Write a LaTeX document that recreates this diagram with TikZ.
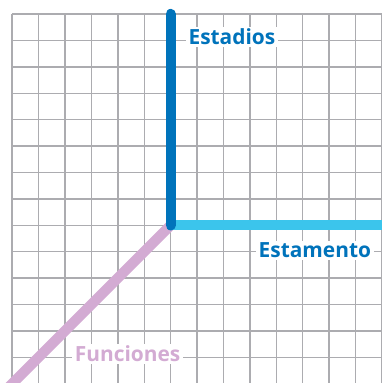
\documentclass[tikz,border=0pt]{standalone}
\usepackage{fontspec}
\newfontfamily\labelfont{Open Sans}
\definecolor{mblue}{RGB}{0,115,187}
\definecolor{mcyan}{RGB}{59,197,236}
\definecolor{mlilac}{RGB}{211,171,211}
\definecolor{mgrid}{RGB}{172,172,176}
\tikzset{axis/.style = {line width = 11pt}}
\tikzset{lbl/.style = {fill=white, inner xsep=3pt, inner ysep=2pt, anchor=base,
                       font=\labelfont\bfseries\fontsize{22.5}{24}\selectfont}}

\begin{document}
\begin{tikzpicture}
  \useasboundingbox (-0.46, 0.03) rectangle (14, 14.53);
  \draw [mgrid, line width=1.5pt] (0, -0.3) grid (14.3, 14);

  \coordinate (o) at (6, 6);
  \coordinate (top) at (6, 14);
  \coordinate (right) at (14.5, 6);
  \coordinate (low) at (-0.6, -0.6);
  \draw [axis, mlilac] (o) -- (low);
  \draw [axis, mcyan] (o) -- (right);
  \draw [axis, mblue, line cap=round] (o) -- (top);

  \node [lbl, text=mblue] (estadios) at (8.32, 12.84) {Estadios};
  \node [lbl, text=mblue] (estamento) at (11.46, 4.77) {Estamento};
  \node [lbl, text=mlilac] (funciones) at (4.37, 0.84) {Funciones};
\end{tikzpicture}
\end{document}
